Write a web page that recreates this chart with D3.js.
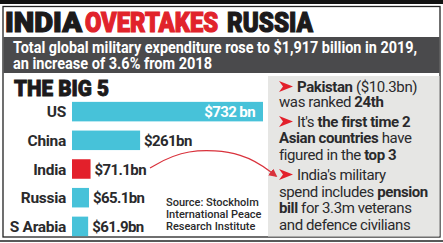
<!DOCTYPE html>
<html>
<head>
<meta charset="utf-8">
<script src="https://cdn.jsdelivr.net/npm/d3@7"></script>
<style>
  body { margin: 0; background: #fff; }
  svg { display: block; }
</style>
</head>
<body>
<script>
var w = 443;
var h = 243;

// data
var countries = ["US", "China", "India", "Russia", "S Arabia"];
var spend = [732, 261, 71.1, 65.1, 61.9];
var spendLabels = ["$732 bn", "$261bn", "$71.1bn", "$65.1bn", "$61.9bn"];
var highlight = "India";

var titleWords = [["INDIA", "#1c1a1b", 5, 77], ["OVERTAKES", "#e1232b", 85, 133], ["RUSSIA", "#1c1a1b", 227, 86]];
var subtitleLines = ["Total global military expenditure rose to $1,917 billion in 2019,", "an increase of 3.6% from 2018"];
var sourceLines = ["Source: Stockholm", "International Peace", "Research Institute"];

// each note line: list of [text, bold], first line of a note gets the arrow
var notes = [
  [[["Pakistan", true], [" ($10.3bn)", false]], [["was ranked ", false], ["24th", true]]],
  [[["It's ", false], ["the first time 2", true]], [["Asian countries", true], [" have", false]], [["figured in the ", false], ["top 3", true]]],
  [[["India's military", false]], [["spend includes ", false], ["pension", true]], [["bill", true], [" for 3.3m veterans", false]], [["and defence civilians", false]]]
];

var svg = d3.select("body")
    .append("svg")
    .attr("width", w)
    .attr("height", h)
    .style("font-family", "Roboto, 'Noto Sans', sans-serif");

// frame
svg.append("rect").attr("x", 0).attr("y", 0).attr("width", w).attr("height", 4).attr("fill", "#111");
svg.append("rect")
    .attr("x", 3).attr("y", 6.5).attr("width", 437).attr("height", 230.5)
    .attr("fill", "none").attr("stroke", "#222").attr("stroke-width", 1.3);
svg.append("line").attr("x1", 0).attr("x2", w).attr("y1", 241).attr("y2", 241)
    .attr("stroke", "#222").attr("stroke-width", 1.5);

// headline (stroke to make it heavier)
svg.selectAll(".title")
    .data(titleWords)
    .enter()
    .append("text")
    .attr("x", function(d) { return d[2]; })
    .attr("y", 32)
    .attr("textLength", function(d) { return d[3]; })
    .attr("lengthAdjust", "spacingAndGlyphs")
    .attr("fill", function(d) { return d[1]; })
    .attr("stroke", function(d) { return d[1]; })
    .attr("stroke-width", 1.2)
    .attr("font-size", 27)
    .attr("font-weight", 900)
    .text(function(d) { return d[0]; });

// subtitle band
svg.append("rect").attr("x", 3.5).attr("y", 37).attr("width", 436).attr("height", 36).attr("fill", "#4a4a4c");
svg.selectAll(".sub")
    .data(subtitleLines)
    .enter()
    .append("text")
    .attr("x", 13)
    .attr("y", function(d, i) { return 53 + i * 16; })
    .attr("textLength", function(d, i) { return i === 0 ? 404 : 199; })
    .attr("lengthAdjust", "spacingAndGlyphs")
    .attr("fill", "#fff")
    .attr("font-size", 16)
    .attr("font-weight", 700)
    .text(function(d) { return d; });

// right panel
svg.append("rect").attr("x", 268).attr("y", 76).attr("width", 171.5).attr("height", 160.5).attr("fill", "#e6e6e4");

// big 5 bars
svg.append("text")
    .attr("x", 14).attr("y", 96)
    .attr("textLength", 95).attr("lengthAdjust", "spacingAndGlyphs")
    .attr("font-size", 22).attr("font-weight", 900).attr("fill", "#1c1a1b")
    .attr("stroke", "#1c1a1b").attr("stroke-width", 0.9)
    .text("THE BIG 5");

var x = d3.scaleLinear().domain([0, 732]).range([72, 263]);
var y = d3.scaleBand().domain(countries).range([99, 239]).paddingInner(0.32).paddingOuter(0.1);

var rows = svg.selectAll(".row")
    .data(countries)
    .enter()
    .append("g")
    .attr("class", "row");

rows.append("rect")
    .attr("x", x(0))
    .attr("y", function(d) { return y(d); })
    .attr("width", function(d, i) { return x(spend[i]) - x(0); })
    .attr("height", y.bandwidth())
    .attr("fill", function(d) { return d === highlight ? "#e3202b" : "#47c2d9"; });

rows.append("text")
    .attr("x", 66)
    .attr("y", function(d) { return y(d) + y.bandwidth() / 2 + 5.5; })
    .attr("text-anchor", "end")
    .attr("font-size", 15.5)
    .attr("font-weight", 700)
    .attr("letter-spacing", -0.3)
    .attr("fill", "#2a2a2c")
    .text(function(d) { return d; });

rows.append("text")
    .attr("x", function(d, i) { return i === 0 ? x(spend[i]) - 8 : x(spend[i]) + 4; })
    .attr("y", function(d) { return y(d) + y.bandwidth() / 2 + 5.5; })
    .attr("text-anchor", function(d, i) { return i === 0 ? "end" : "start"; })
    .attr("font-size", 15)
    .attr("font-weight", 700)
    .attr("letter-spacing", -0.6)
    .attr("fill", function(d, i) { return i === 0 ? "#fff" : "#2a2a2c"; })
    .text(function(d, i) { return spendLabels[i]; });

// source
svg.selectAll(".src")
    .data(sourceLines)
    .enter()
    .append("text")
    .attr("x", 166)
    .attr("y", function(d, i) { return 206 + i * 12; })
    .attr("font-size", 11)
    .attr("font-weight", 500)
    .attr("fill", "#2a2a2c")
    .text(function(d) { return d; });

// curved pointer from India to the notes
svg.append("defs").append("marker")
    .attr("id", "head")
    .attr("viewBox", "0 0 10 10")
    .attr("refX", 8).attr("refY", 5)
    .attr("markerWidth", 7).attr("markerHeight", 7)
    .attr("orient", "auto")
    .append("path").attr("d", "M0,0 L10,5 L0,10 Z").attr("fill", "#d9323c");
svg.append("path")
    .attr("d", d3.line().curve(d3.curveBasis)([[150, 168], [185, 148], [245, 152], [276, 176]]))
    .attr("fill", "none")
    .attr("stroke", "#d9323c")
    .attr("stroke-width", 1.2)
    .attr("marker-end", "url(#head)");

// notes
var noteY = [[92, 107], [127, 143, 160], [180, 197, 213, 230]];
notes.forEach(function(note, n) {
    note.forEach(function(line, l) {
        var t = svg.append("text")
            .attr("x", l === 0 ? 297 : 279)
            .attr("y", noteY[n][l])
            .attr("font-size", 15)
            .attr("letter-spacing", -0.4)
            .attr("fill", "#2a2a2c");
        t.selectAll("tspan")
            .data(line)
            .enter()
            .append("tspan")
            .attr("font-weight", function(d) { return d[1] ? 700 : 400; })
            .text(function(d) { return d[0]; });
        if (l === 0) {
            svg.append("path")
                .attr("d", "M279," + (noteY[n][l] - 11) + " L293," + (noteY[n][l] - 5.5) + " L279," + noteY[n][l] + " L283," + (noteY[n][l] - 5.5) + " Z")
                .attr("fill", "#e3202b");
        }
    });
});
</script>
</body>
</html>
